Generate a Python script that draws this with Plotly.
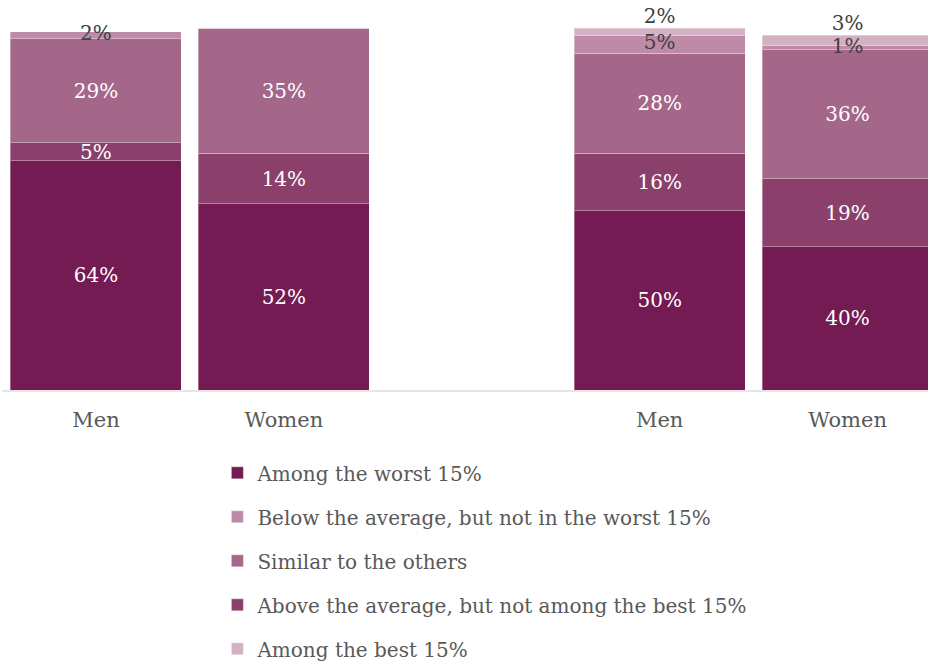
import plotly.graph_objects as go

# Category positions: two groups of two bars with an empty slot between them
x_pos = [0, 1, 3, 4]
x_labels = ["Men", "Women", "Men", "Women"]

# Shares (%) per answer, stacked bottom to top
worst = [64, 52, 50, 40]
above_avg = [5, 14, 16, 19]
similar = [29, 35, 28, 36]
below_avg = [2, 0, 5, 1]
best = [0, 0, 2, 3]

series = [
    # name, values, colour, label colour, legend rank, text position
    ("Among the worst 15%", worst, "#731b52", "white", 1, "inside"),
    ("Above the average, but not among the best 15%", above_avg, "#8b406b", "white", 4, "inside"),
    ("Similar to the others", similar, "#a46789", "white", 3, "inside"),
    ("Below the average, but not in the worst 15%", below_avg, "#bd8ba8", "#404040", 2, "none"),
    ("Among the best 15%", best, "#d4b0c3", "#404040", 5, "none"),
]

FONT = "DejaVu Serif"
LABEL_SIZE = 20
DARK_LABEL = "#404040"

fig = go.Figure()
for name, vals, color, tcolor, rank, tpos in series:
    fig.add_trace(go.Bar(
        x=x_pos,
        y=vals,
        name=name,
        marker=dict(color=color, line=dict(color="rgba(255,255,255,0.35)", width=1)),
        text=[f"{v}%" if v else "" for v in vals],
        textposition=tpos,
        insidetextanchor="middle",
        constraintext="none",
        textfont=dict(family=FONT, size=LABEL_SIZE, color=tcolor),
        cliponaxis=False,
        legendrank=rank,
        legendgroup=name,
        hoverinfo="skip",
    ))

# Labels of the thin top segments, drawn above all bars
below_top = [w + a + s + b for w, a, s, b in zip(worst, above_avg, similar, below_avg)]
below_mid = [t - b / 2 for t, b in zip(below_top, below_avg)]
totals = [t + b for t, b in zip(below_top, best)]

fig.add_trace(go.Scatter(
    x=x_pos,
    y=below_mid,
    mode="text",
    text=[f"{v}%" if v else "" for v in below_avg],
    textposition="middle center",
    textfont=dict(family=FONT, size=LABEL_SIZE, color=DARK_LABEL),
    showlegend=False,
    cliponaxis=False,
    hoverinfo="skip",
))
fig.add_trace(go.Scatter(
    x=x_pos,
    y=totals,
    mode="text",
    text=[f"{v}%" if v else "" for v in best],
    textposition="top center",
    textfont=dict(family=FONT, size=LABEL_SIZE, color=DARK_LABEL),
    showlegend=False,
    cliponaxis=False,
    hoverinfo="skip",
))

fig.update_layout(
    barmode="stack",
    bargap=0.09,
    width=928,
    height=662,
    margin=dict(l=1.5, r=0, t=28, b=272, autoexpand=False),
    paper_bgcolor="white",
    plot_bgcolor="white",
    font=dict(family=FONT, color="#595959"),
    showlegend=True,
    legend=dict(
        orientation="v",
        x=0.2326,
        xanchor="left",
        y=-0.175,
        yanchor="top",
        font=dict(family=FONT, size=20, color="#595959"),
        tracegroupgap=15,
        traceorder="grouped",
        bgcolor="rgba(0,0,0,0)",
    ),
)

fig.update_xaxes(
    tickvals=x_pos,
    ticktext=x_labels,
    range=[-0.5, 4.428],
    showgrid=False,
    zeroline=False,
    showline=True,
    linecolor="#e6e6e6",
    linewidth=2,
    ticks="",
    ticklabelstandoff=10,
    tickfont=dict(family=FONT, size=21, color="#595959"),
)
fig.update_yaxes(
    range=[0, 101],
    visible=False,
    showgrid=False,
    zeroline=False,
)

fig.write_html("out.html")
